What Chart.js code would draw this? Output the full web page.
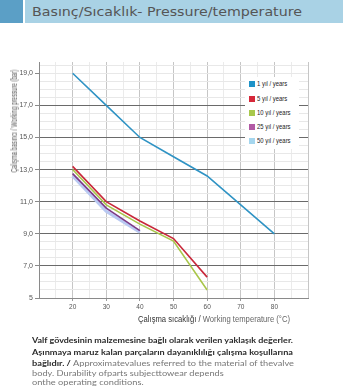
<!DOCTYPE html>
<html>
<head>
<meta charset="utf-8">
<script src="https://cdn.jsdelivr.net/npm/chart.js@4/dist/chart.umd.min.js"></script>
<style>
  html, body { margin:0; padding:0; background:#fff; }
  body { width:357px; height:392px; position:relative; overflow:hidden; font-family:"Liberation Sans", Arial, sans-serif; }
  .abs { position:absolute; white-space:nowrap; }
  #sq { left:0; top:0; width:23px; height:23px; background:#5b9fc6; }
  #band { left:25px; top:0; width:318px; height:23px; background:#a9d2e5; }
  #ttl { left:32px; top:0; line-height:23px; font-family:"DejaVu Sans", sans-serif; font-size:13px; color:#555; transform-origin:0 50%; }
  #wrap { left:0; top:50px; width:357px; height:280px; }
  #legend { left:245px; top:77px; width:54px; height:72px; background:#fff; }
  .li { position:absolute; left:0; height:10px; }
  .mk { position:absolute; left:4px; top:2px; width:6px; height:6px; }
  .lt { position:absolute; left:12px; top:0; line-height:10px; font-size:8px; color:#222; white-space:nowrap; transform-origin:0 50%; }
  #ytitle, #xtitle { left:0; top:0; color:#555; transform-origin:0 0; }
  #ytitle { font-size:9px; color:#555; }
  #xtitle { font-size:8.5px; color:#666; }
  #xtitle b { font-weight:normal; color:#333; }
  .nl { position:absolute; left:32px; white-space:nowrap; font-family:Lato, sans-serif; font-size:8px; line-height:10px; color:#777; transform-origin:0 50%; }
  .nl b { color:#2a2a2a; font-weight:bold; }
</style>
</head>
<body>
<div class="abs" id="sq"></div>
<div class="abs" id="band"></div>
<div class="abs" id="ttl">Basınç/Sıcaklık- Pressure/temperature</div>
<div class="abs" id="wrap"><canvas id="c" width="357" height="280"></canvas></div>
<div class="abs" id="legend"></div>
<span class="abs" id="ytitle">Çalışma basıncı / Working pressure (bar)</span>
<span class="abs" id="xtitle"><b>Çalışma sıcaklığı /</b> Working temperature (°C)</span>
<span class="nl" data-w="261" style="top:335px"><b>Valf gövdesinin malzemesine bağlı olarak verilen yaklaşık değerler.</b></span>
<span class="nl" data-w="261" style="top:346.5px"><b>Aşınmaya maruz kalan parçaların dayanıklılığı çalışma koşullarına</b></span>
<span class="nl" id="nl3" data-w="262" style="top:357.5px"><b>bağlıdır. /</b> Approximatevalues referred to the material of thevalve</span>
<span class="nl nls" style="top:367.5px">body. Durability ofparts subjecttowear depends</span>
<span class="nl nls" style="top:377px">onthe operating conditions.</span>
<script>
// ---- data ----
const temperatures = [20, 30, 40, 50, 60, 70, 80];
const seriesLabels = ['1 yıl / years', '5 yıl / years', '10 yıl / years', '25 yıl / years', '50 yıl / years'];
const years1  = [19.0, 17.0, 15.0, 13.8, 12.6, 10.8, 9.0];
const years5  = [13.2, 11.0, 9.8, 8.7, 6.3, null, null];
const years10 = [13.0, 10.8, 9.6, 8.55, 5.5, null, null];
const years25 = [12.75, 10.6, 9.2, null, null, null, null];
const years50 = [12.6, 10.4, 9.1, null, null, null, null];
const yTickValues = [5, 7, 9, 11, 13, 15, 17, 19];
const yTickLabels = ['5', '7,0', '9,0', '11,0', '13,0', '15,0', '17,0', '19,0'];
const xTickValues = [20, 30, 40, 50, 60, 70, 80];
const xTickLabels = ['20', '30', '40', '50', '60', '70', '80'];

const lineColors   = ['#2f93c4', '#c8283a', '#a9c64a', '#7d3b86', '#b9c9f2'];
const legendColors = ['#1f93c8', '#d6283a', '#a8c84c', '#b25aa5', '#a5d6ee'];
const lineWidths   = [1.6, 1.6, 1.6, 1.6, 3.2];

const allSeries = [years1, years5, years10, years25, years50];
const toPoints = arr => temperatures.map((t, i) => ({x: t, y: arr[i]})).filter(p => p.y !== null);

const datasets = allSeries.map((s, i) => ({
  label: seriesLabels[i],
  data: toPoints(s),
  borderColor: lineColors[i],
  backgroundColor: lineColors[i],
  borderWidth: lineWidths[i],
  pointRadius: 0,
  tension: 0,
  fill: false,
  order: i === 4 ? 10 : i
}));

const near = (a, b) => Math.abs(a - b) < 1e-6;

new Chart(document.getElementById('c'), {
  type: 'line',
  data: { datasets },
  options: {
    responsive: false,
    animation: false,
    layout: { padding: { top: 12, right: 49, left: 0, bottom: 0 } },
    plugins: { legend: { display: false }, tooltip: { enabled: false } },
    scales: {
      x: {
        type: 'linear', min: 10, max: 90,
        afterBuildTicks: s => { const t = []; for (let v = 10; v <= 90; v += 5) t.push({value: v}); s.ticks = t; },
        afterFit: s => { s.height = 32; },
        border: { color: '#8a8a8a', width: 1 },
        grid: {
          color: c => (c.tick.value % 10 === 0 ? '#c6c6c6' : '#ebebeb'),
          tickColor: c => (xTickValues.includes(c.tick.value) ? '#9a9a9a' : 'rgba(0,0,0,0)'),
          tickLength: 3
        },
        ticks: {
          autoSkip: false, maxRotation: 0, padding: 2,
          color: '#555', font: { size: 6.5, family: 'Liberation Sans' },
          callback: v => { const i = xTickValues.indexOf(v); return i >= 0 ? xTickLabels[i] : ''; }
        }
      },
      y: {
        type: 'linear', min: 5, max: 19.7,
        afterBuildTicks: s => { const t = []; for (let v = 5; v <= 19.5 + 1e-9; v += 0.5) t.push({value: v}); s.ticks = t; },
        afterFit: s => { s.width = 39; },
        border: { color: '#8a8a8a', width: 1 },
        grid: {
          color: c => {
            const v = c.tick.value;
            if (yTickValues.some(t => near(t, v)) && !near(v, 19) && !near(v, 5)) return '#6a6a6a';
            return '#e8e8e8';
          },
          tickColor: c => (yTickValues.some(t => near(t, c.tick.value)) ? '#8a8a8a' : 'rgba(0,0,0,0)'),
          tickLength: 4
        },
        ticks: {
          autoSkip: false, padding: 2,
          color: '#555', font: { size: 7, family: 'Liberation Sans' },
          callback: v => { const i = yTickValues.findIndex(t => near(t, v)); return i >= 0 ? yTickLabels[i] : ''; }
        }
      }
    }
  }
});

// ---- legend (HTML) ----
const lg = document.getElementById('legend');
const legendY = [2, 16.5, 31, 45, 59];
seriesLabels.forEach((lab, i) => {
  const d = document.createElement('div');
  d.className = 'li';
  d.style.top = legendY[i] + 'px';
  d.innerHTML = '<div class="mk" style="background:' + legendColors[i] + '"></div><span class="lt">' + lab + '</span>';
  lg.appendChild(d);
});
lg.querySelectorAll('.lt').forEach(el => { el.style.transform = 'scaleX(0.74)'; });

// ---- fit helpers ----
function fitH(el, target) {
  const w = el.getBoundingClientRect().width;
  const k = target / w;
  el.style.transform = 'scaleX(' + k + ')';
  return k;
}
fitH(document.getElementById('ttl'), 270);
let k3 = 1;
document.querySelectorAll('.nl[data-w]').forEach(el => {
  const k = fitH(el, parseFloat(el.dataset.w));
  if (el.id === 'nl3') k3 = k;
});
document.querySelectorAll('.nls').forEach(el => { el.style.transform = 'scaleX(' + k3 + ')'; });

const yt = document.getElementById('ytitle');
{
  const r = yt.getBoundingClientRect();
  const k = 103 / r.width;
  yt.style.transform = 'translate(14px,121px) rotate(-90deg) scaleX(' + k + ') translate(-50%,-50%)';
}
const xt = document.getElementById('xtitle');
{
  const r = xt.getBoundingClientRect();
  const k = 152 / r.width;
  xt.style.transform = 'translate(214px,319px) scaleX(' + k + ') translate(-50%,-50%)';
}
</script>
</body>
</html>
